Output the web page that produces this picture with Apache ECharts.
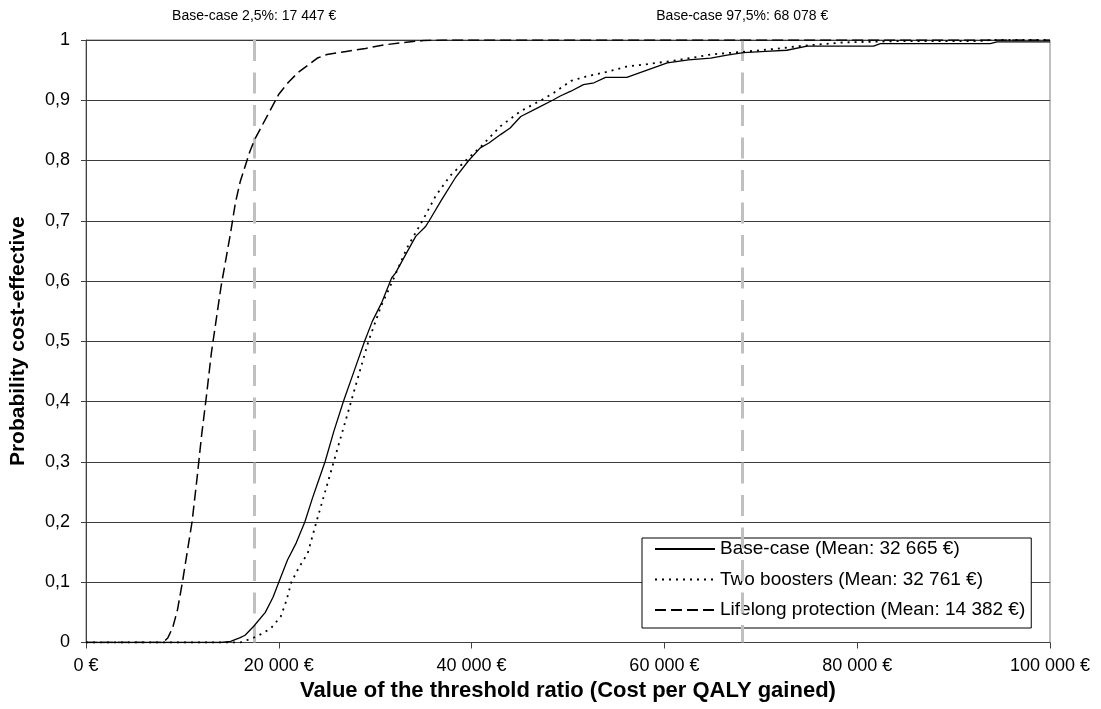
<!DOCTYPE html>
<html>
<head>
<meta charset="utf-8">
<script src="https://cdn.jsdelivr.net/npm/echarts@6/dist/echarts.min.js"></script>
<style>
html,body{margin:0;padding:0;background:#fff;}
#chart{width:1101px;height:709px;}
</style>
</head>
<body>
<div id="chart"></div>
<script>
// ---- Data ----
const seriesNames = [
  'Base-case (Mean: 32 665 €)',
  'Two boosters (Mean: 32 761 €)',
  'Lifelong protection (Mean: 14 382 €)'
];
const baseX = [0, 14000, 15000, 16000, 16500, 17400, 18600, 19400, 20000, 20900, 21800, 22700, 23500, 24150, 24800, 25700, 26700, 27800, 28900, 29700, 30700, 31700, 32100, 33200, 34200, 35200, 35600, 36900, 38300, 39700, 40900, 41800, 43000, 44000, 45100, 46700, 48400, 49200, 50300, 51600, 52700, 53900, 56100, 58200, 60300, 62500, 64800, 66500, 68200, 70500, 72700, 74800, 81700, 82400, 93800, 94500, 100000];
const baseY = [0, 0, 0.002, 0.008, 0.012, 0.027, 0.05, 0.075, 0.1, 0.137, 0.165, 0.2, 0.24, 0.27, 0.3, 0.35, 0.4, 0.45, 0.5, 0.533, 0.565, 0.605, 0.613, 0.645, 0.674, 0.69, 0.7, 0.735, 0.771, 0.8, 0.821, 0.829, 0.843, 0.854, 0.873, 0.886, 0.9, 0.907, 0.915, 0.926, 0.929, 0.938, 0.938, 0.95, 0.962, 0.967, 0.97, 0.975, 0.979, 0.981, 0.983, 0.99, 0.99, 0.994, 0.994, 0.997, 0.997];

const boostX = [0, 16000, 17400, 18300, 19200, 20200, 20800, 21300, 22100, 23000, 23900, 24800, 25700, 26600, 27500, 28400, 29300, 30600, 31800, 33300, 34900, 36300, 37800, 39400, 40900, 43000, 45100, 47200, 48500, 50300, 52000, 54000, 56100, 58300, 60600, 62700, 64800, 68600, 71300, 74100, 76300, 78600, 83800, 92400, 94000, 100000];
const boostY = [0, 0, 0.008, 0.015, 0.024, 0.043, 0.07, 0.1, 0.125, 0.148, 0.2, 0.25, 0.3, 0.35, 0.4, 0.45, 0.5, 0.558, 0.6, 0.655, 0.7, 0.742, 0.775, 0.8, 0.822, 0.857, 0.882, 0.9, 0.912, 0.932, 0.94, 0.947, 0.956, 0.96, 0.965, 0.97, 0.976, 0.981, 0.985, 0.99, 0.993, 0.996, 0.998, 0.998, 1, 1];

const lifeX = [0, 8000, 8500, 9000, 9500, 10000, 10500, 11000, 11500, 12000, 12500, 13000, 13500, 14000, 14500, 15000, 15500, 16000, 16500, 17000, 17500, 18000, 19000, 20000, 21000, 22000, 23000, 24000, 25000, 27000, 29000, 31000, 33000, 35000, 37000, 100000];
const lifeY = [0, 0, 0.008, 0.025, 0.055, 0.1, 0.15, 0.2, 0.27, 0.345, 0.41, 0.48, 0.535, 0.59, 0.635, 0.68, 0.73, 0.765, 0.79, 0.815, 0.835, 0.85, 0.88, 0.91, 0.93, 0.946, 0.958, 0.97, 0.976, 0.981, 0.986, 0.992, 0.996, 0.999, 1, 1];

const pctX = [17447, 68078];
const pctLabels = ['Base-case 2,5%: 17 447 €', 'Base-case 97,5%: 68 078 €'];

// ---- Helpers ----
const FONT = "'Liberation Sans', Arial, sans-serif";
function zip(xs, ys){ return xs.map((x,i)=>[x, ys[i]]); }
function fmtEuro(v){
  const s = Math.round(v).toString().replace(/\B(?=(\d{3})+(?!\d))/g, ' ');
  return s + ' €';
}
function fmtProb(v){
  return (Math.round(v*10)/10).toString().replace('.', ',');
}

const markLineData = pctX.map((x, i) => [
  {coord: [x, 1], name: pctLabels[i]},
  {coord: [x, 0]}
]);

const chart = echarts.init(document.getElementById('chart'), null, {renderer: 'canvas'});
chart.setOption({
  animation: false,
  backgroundColor: '#fff',
  textStyle: {fontFamily: FONT},
  grid: {left: 85, right: 51, top: 40, bottom: 66.5, show: true, borderColor: '#808080', borderWidth: 1},
  xAxis: {
    type: 'value', min: 0, max: 100000, interval: 20000,
    name: 'Value of the threshold ratio (Cost per QALY gained)',
    nameLocation: 'middle', nameGap: 30,
    nameTextStyle: {fontFamily: FONT, fontSize: 22, fontWeight: 'bold', color: '#000'},
    axisLine: {lineStyle: {color: '#404040', width: 1}},
    axisTick: {show: true, inside: false, length: 6, lineStyle: {color: '#404040'}},
    axisLabel: {formatter: fmtEuro, fontFamily: FONT, fontSize: 18, color: '#000', margin: 15},
    splitLine: {show: false}
  },
  yAxis: {
    type: 'value', min: 0, max: 1, interval: 0.1,
    name: 'Probability cost-effective',
    nameLocation: 'middle', nameGap: 57,
    nameTextStyle: {fontFamily: FONT, fontSize: 21, fontWeight: 'bold', color: '#000'},
    axisLine: {show: true, lineStyle: {color: '#404040', width: 1}},
    axisTick: {show: true, inside: false, length: 5, lineStyle: {color: '#404040'}},
    axisLabel: {formatter: fmtProb, fontFamily: FONT, fontSize: 18, color: '#000', margin: 16},
    splitLine: {show: true, lineStyle: {color: '#3a3a3a', width: 1}}
  },
  legend: {
    show: true,
    orient: 'vertical',
    left: 642, top: 538,
    backgroundColor: '#fff',
    borderColor: '#000', borderWidth: 1,
    padding: [1, 6, 8, 12],
    itemWidth: 60, itemHeight: 14, itemGap: 10.5,
    itemStyle: {opacity: 0, borderWidth: 0},
    textStyle: {fontFamily: FONT, fontSize: 19, color: '#000', lineHeight: 20},
    data: seriesNames
  },
  series: [
    {
      name: seriesNames[0], type: 'line', data: zip(baseX, baseY),
      symbol: 'none', z: 5,
      lineStyle: {color: '#000', width: 1.3, type: 'solid'},
      itemStyle: {color: '#000'},
      markLine: {
        silent: true, symbol: ['none', 'none'],
        lineStyle: {color: '#c0c0c0', width: 3, type: [21, 11.5]},
        label: {show: true, position: 'start', distance: 17, formatter: '{b}',
                fontFamily: FONT, fontSize: 14, color: '#000'},
        data: markLineData
      }
    },
    {
      name: seriesNames[1], type: 'line', data: zip(boostX, boostY),
      symbol: 'none', z: 5,
      lineStyle: {color: '#000', width: 1.8, type: [2, 5]},
      itemStyle: {color: '#000'}
    },
    {
      name: seriesNames[2], type: 'line', data: zip(lifeX, lifeY),
      symbol: 'none', z: 5,
      lineStyle: {color: '#000', width: 1.5, type: [11, 5]},
      itemStyle: {color: '#000'}
    }
  ]
});
</script>
</body>
</html>
